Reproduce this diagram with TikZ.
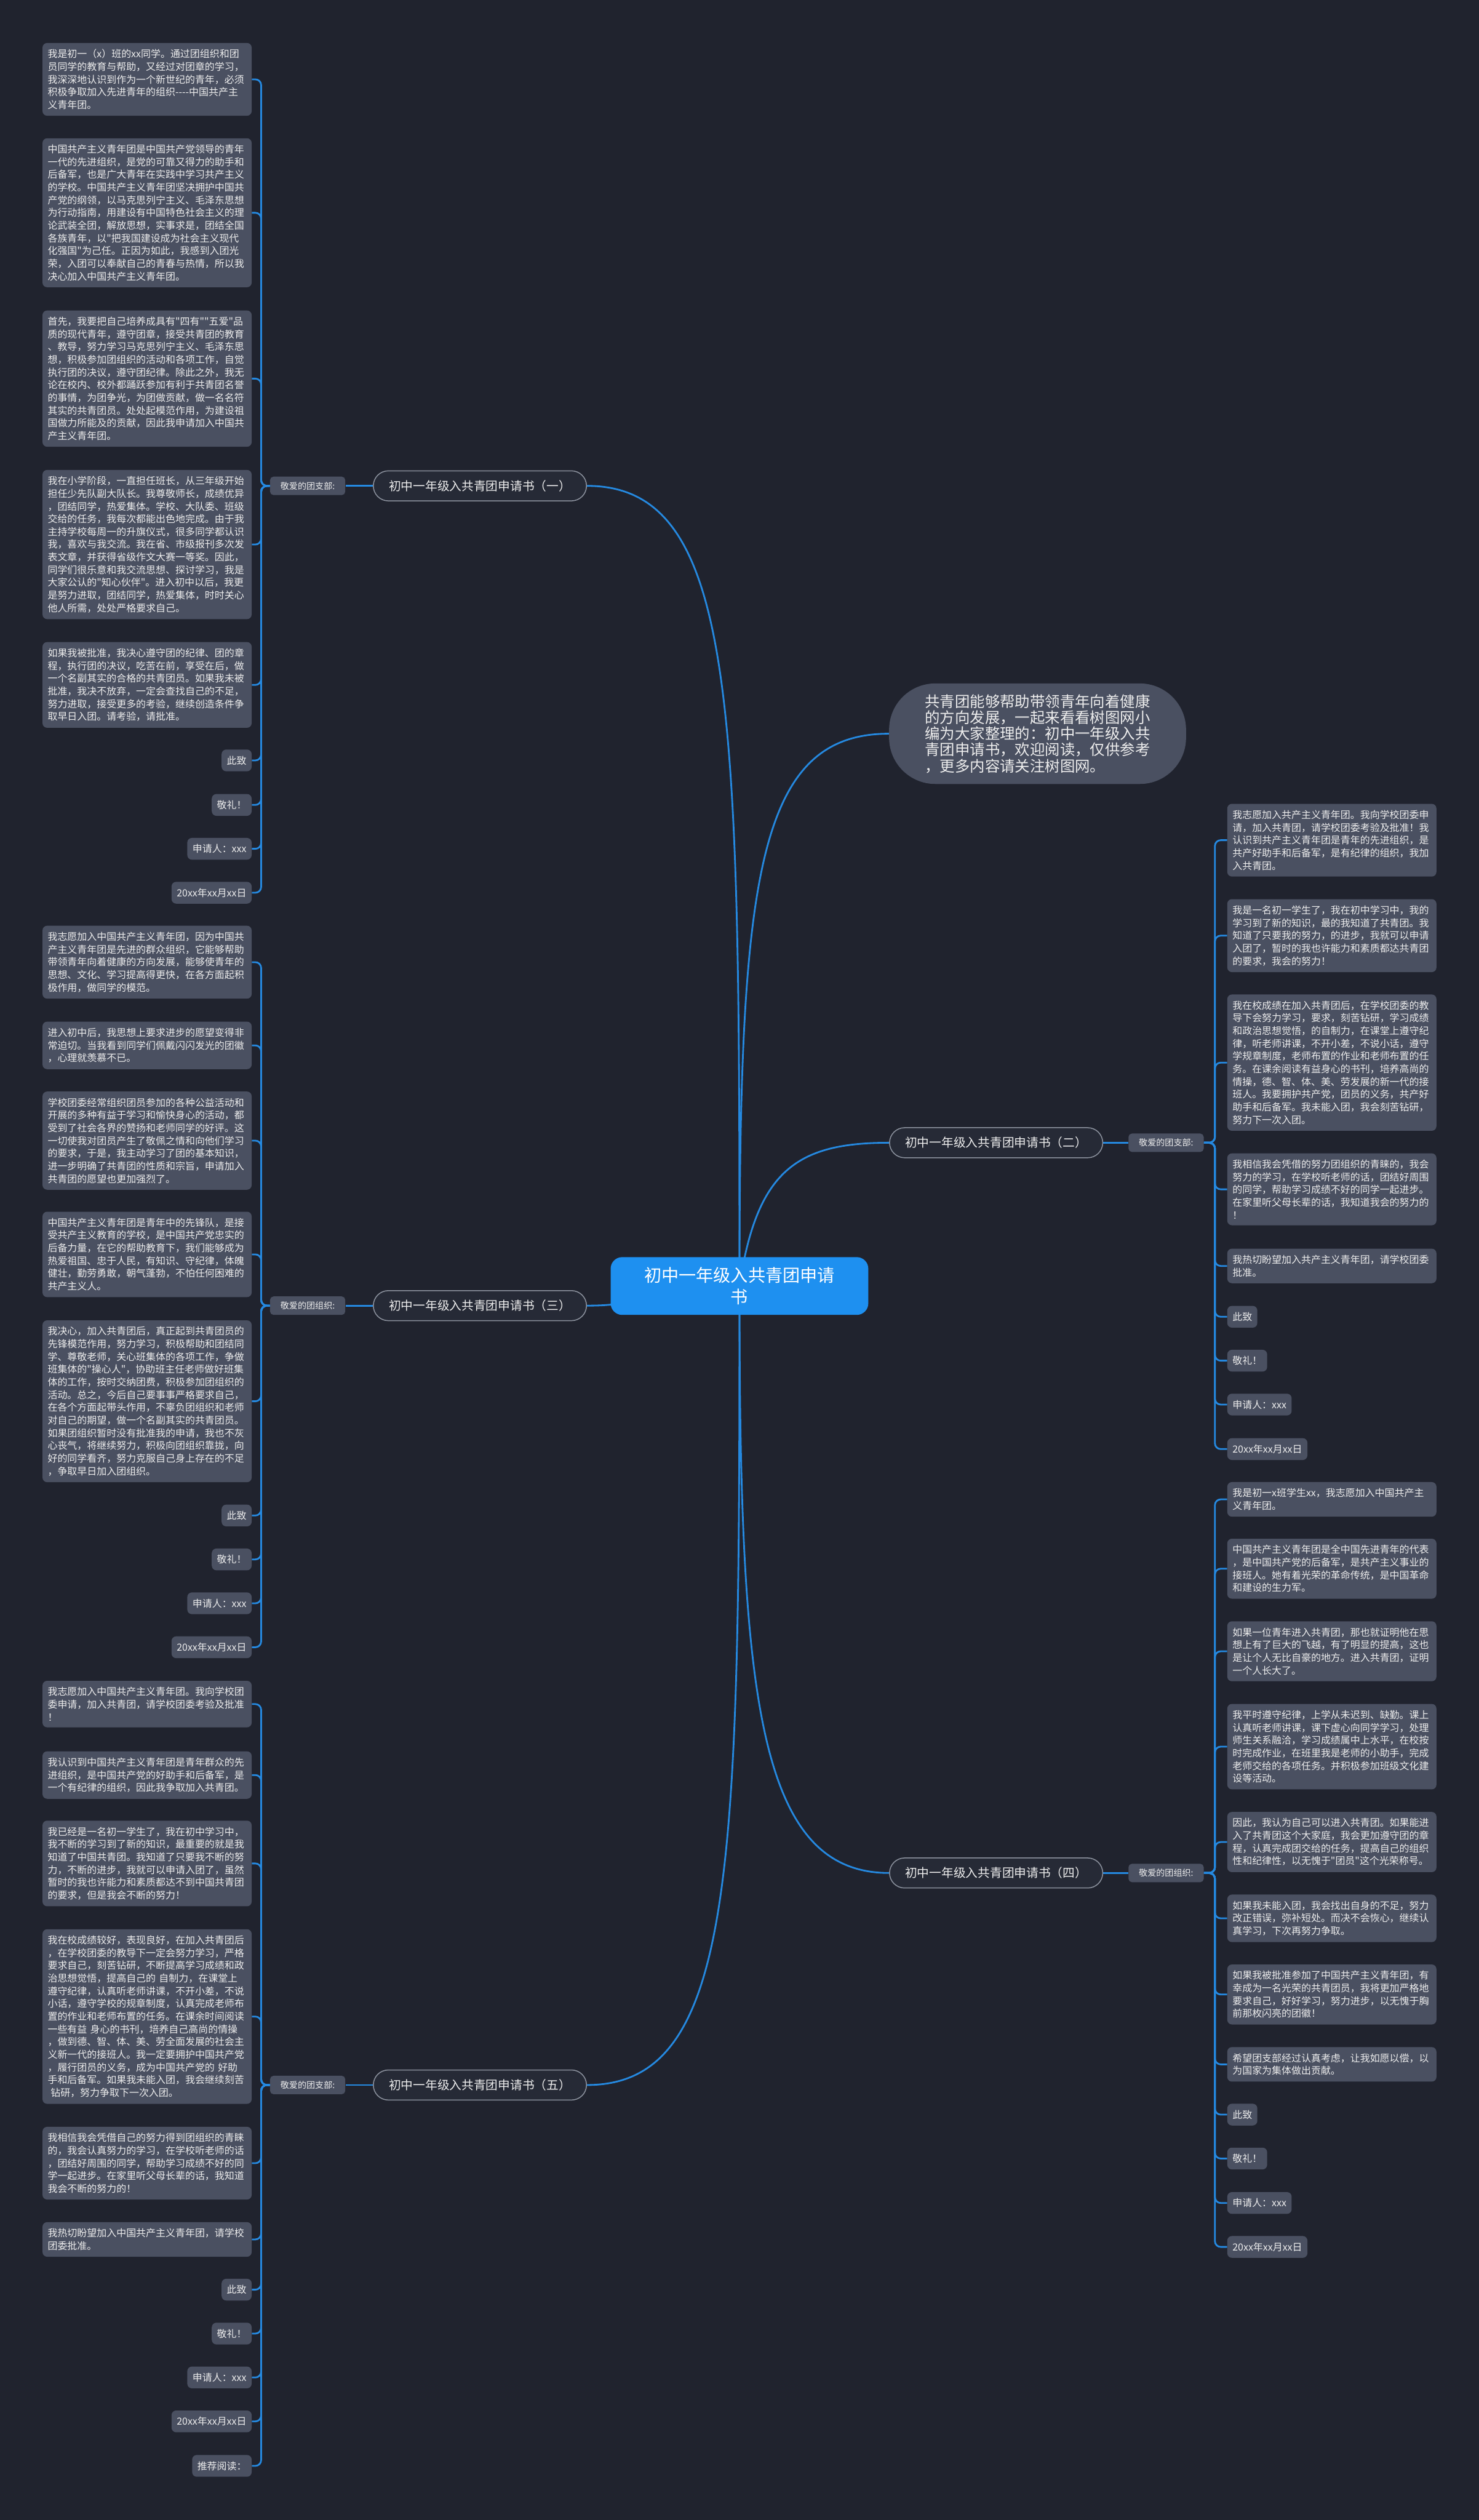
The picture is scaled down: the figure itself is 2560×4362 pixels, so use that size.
\documentclass[tikz,border=0pt]{standalone}
\usepackage{fontspec}
\setmainfont{Noto Sans CJK SC}[Ligatures=TeXOff]
\usetikzlibrary{calc}
\definecolor{bgc}{HTML}{20232E}
\definecolor{leafc}{HTML}{4A5061}
\definecolor{txt}{HTML}{EDEDED}
\definecolor{linec}{HTML}{2589E0}
\definecolor{cenc}{HTML}{1E90F0}
\definecolor{brc}{HTML}{262A36}
\definecolor{brd}{HTML}{8C929E}
\pgfdeclarelayer{bgl}\pgfdeclarelayer{lnl}\pgfsetlayers{bgl,lnl,main}
\tikzset{
 leaf/.style={fill=leafc, rounded corners=4pt, text=txt, font=\fontsize{8.5}{11}\selectfont, inner xsep=4.5pt, inner ysep=5.5pt, align=left, text width=172pt},
 leafs/.style={fill=leafc, rounded corners=4pt, text=txt, font=\fontsize{8.5}{11}\selectfont, inner xsep=4.5pt, inner ysep=5.5pt},
 lab/.style={fill=leafc, rounded corners=3pt, text=txt, font=\fontsize{7.5}{9}\selectfont, inner xsep=9pt, inner ysep=4.5pt},
 branch/.style={fill=brc, draw=brd, line width=0.8pt, rounded corners=13pt, text=txt, font=\fontsize{10.5}{12}\selectfont, inner xsep=13.5pt, inner ysep=8pt},
 central/.style={fill=cenc, rounded corners=10pt, text=white, font=\fontsize{15}{19}\selectfont, align=center, minimum width=223pt, minimum height=50pt},
 intro/.style={fill=leafc, rounded corners=40pt, text=txt, font=\fontsize{13}{14}\selectfont, align=left, minimum width=257pt, minimum height=87pt},
 conn/.style={draw=linec, line width=1.5pt, rounded corners=5pt},
 mainc/.style={draw=linec, line width=1.5pt}
}
\begin{document}
\begin{tikzpicture}[x=0.5pt,y=-0.5pt]
\begin{pgfonlayer}{bgl}
\fill[bgc] (0,0) rectangle (2560,4362);
\end{pgfonlayer}
\useasboundingbox (0,0) rectangle (2560,4362);

% central and intro
\node[central] (c) at (1280,2226) {初中一年级入共青团申请\\书};
\node[intro] (intro) at (1796,1270) {共青团能够帮助带领青年向着健康\\的方向发展，一起来看看树图网小\\编为大家整理的：初中一年级入共\\青团申请书，欢迎阅读，仅供参考\\，更多内容请关注树图网。};

% branches
\node[branch, anchor=east] (br1) at (1016,841) {初中一年级入共青团申请书（一）};
\node[branch, anchor=east] (br3) at (1016,2260) {初中一年级入共青团申请书（三）};
\node[branch, anchor=east] (br5) at (1016,3609) {初中一年级入共青团申请书（五）};
\node[branch, anchor=west] (br2) at (1539,1978) {初中一年级入共青团申请书（二）};
\node[branch, anchor=west] (br4) at (1539,3242) {初中一年级入共青团申请书（四）};

\node[lab, anchor=east] (lb1) at (598,841) {敬爱的团支部:};
\node[lab, anchor=east] (lb3) at (598,2260) {敬爱的团组织:};
\node[lab, anchor=east] (lb5) at (598,3609) {敬爱的团支部:};
\node[lab, anchor=west] (lb2) at (1953,1978) {敬爱的团支部:};
\node[lab, anchor=west] (lb4) at (1953,3242) {敬爱的团组织:};

% group 1
\node[leaf, anchor=north east] (g1-1) at (436,74) {我是初一（x）班的xx同学。通过团组织和团\\员同学的教育与帮助，又经过对团章的学习，\\我深深地认识到作为一个新世纪的青年，必须\\积极争取加入先进青年的组织-{}-{}-{}-中国共产主\\义青年团。};
\node[leaf, anchor=north east] (g1-2) at (436,239) {中国共产主义青年团是中国共产党领导的青年\\一代的先进组织，是党的可靠又得力的助手和\\后备军，也是广大青年在实践中学习共产主义\\的学校。中国共产主义青年团坚决拥护中国共\\产党的纲领，以马克思列宁主义、毛泽东思想\\为行动指南，用建设有中国特色社会主义的理\\论武装全团，解放思想，实事求是，团结全国\\各族青年，以"把我国建设成为社会主义现代\\化强国"为己任。正因为如此，我感到入团光\\荣，入团可以奉献自己的青春与热情，所以我\\决心加入中国共产主义青年团。};
\node[leaf, anchor=north east] (g1-3) at (436,537) {首先，我要把自己培养成具有"四有""五爱"品\\质的现代青年，遵守团章，接受共青团的教育\\、教导，努力学习马克思列宁主义、毛泽东思\\想，积极参加团组织的活动和各项工作，自觉\\执行团的决议，遵守团纪律。除此之外，我无\\论在校内、校外都踊跃参加有利于共青团名誉\\的事情，为团争光，为团做贡献，做一名名符\\其实的共青团员。处处起模范作用，为建设祖\\国做力所能及的贡献，因此我申请加入中国共\\产主义青年团。};
\node[leaf, anchor=north east] (g1-4) at (436,813) {我在小学阶段，一直担任班长，从三年级开始\\担任少先队副大队长。我尊敬师长，成绩优异\\，团结同学，热爱集体。学校、大队委、班级\\交给的任务，我每次都能出色地完成。由于我\\主持学校每周一的升旗仪式，很多同学都认识\\我，喜欢与我交流。我在省、市级报刊多次发\\表文章，并获得省级作文大赛一等奖。因此，\\同学们很乐意和我交流思想、探讨学习，我是\\大家公认的"知心伙伴"。进入初中以后，我更\\是努力进取，团结同学，热爱集体，时时关心\\他人所需，处处严格要求自己。};
\node[leaf, anchor=north east] (g1-5) at (436,1111) {如果我被批准，我决心遵守团的纪律、团的章\\程，执行团的决议，吃苦在前，享受在后，做\\一个名副其实的合格的共青团员。如果我未被\\批准，我决不放弃，一定会查找自己的不足，\\努力进取，接受更多的考验，继续创造条件争\\取早日入团。请考验，请批准。};
\node[leafs, anchor=north east] (g1-6) at (436,1297) {此致};
\node[leafs, anchor=north east] (g1-7) at (436,1374) {敬礼！};
\node[leafs, anchor=north east] (g1-8) at (436,1450) {申请人：xxx};
\node[leafs, anchor=north east] (g1-9) at (436,1526) {20xx年xx月xx日};

% group 3
\node[leaf, anchor=north east] (g3-1) at (436,1602) {我志愿加入中国共产主义青年团，因为中国共\\产主义青年团是先进的群众组织，它能够帮助\\带领青年向着健康的方向发展，能够使青年的\\思想、文化、学习提高得更快，在各方面起积\\极作用，做同学的模范。};
\node[leaf, anchor=north east] (g3-2) at (436,1768) {进入初中后，我思想上要求进步的愿望变得非\\常迫切。当我看到同学们佩戴闪闪发光的团徽\\，心理就羡慕不已。};
\node[leaf, anchor=north east] (g3-3) at (436,1889) {学校团委经常组织团员参加的各种公益活动和\\开展的多种有益于学习和愉快身心的活动，都\\受到了社会各界的赞扬和老师同学的好评。这\\一切使我对团员产生了敬佩之情和向他们学习\\的要求，于是，我主动学习了团的基本知识，\\进一步明确了共青团的性质和宗旨，申请加入\\共青团的愿望也更加强烈了。};
\node[leaf, anchor=north east] (g3-4) at (436,2097) {中国共产主义青年团是青年中的先锋队，是接\\受共产主义教育的学校，是中国共产党忠实的\\后备力量，在它的帮助教育下，我们能够成为\\热爱祖国、忠于人民，有知识、守纪律，体魄\\健壮，勤劳勇敢，朝气蓬勃，不怕任何困难的\\共产主义人。};
\node[leaf, anchor=north east] (g3-5) at (436,2285) {我决心，加入共青团后，真正起到共青团员的\\先锋模范作用，努力学习，积极帮助和团结同\\学、尊敬老师，关心班集体的各项工作，争做\\班集体的"操心人"，协助班主任老师做好班集\\体的工作，按时交纳团费，积极参加团组织的\\活动。总之，今后自己要事事严格要求自己，\\在各个方面起带头作用，不辜负团组织和老师\\对自己的期望，做一个名副其实的共青团员。\\如果团组织暂时没有批准我的申请，我也不灰\\心丧气，将继续努力，积极向团组织靠拢，向\\好的同学看齐，努力克服自己身上存在的不足\\，争取早日加入团组织。};
\node[leafs, anchor=north east] (g3-6) at (436,2604) {此致};
\node[leafs, anchor=north east] (g3-7) at (436,2680) {敬礼！};
\node[leafs, anchor=north east] (g3-8) at (436,2756) {申请人：xxx};
\node[leafs, anchor=north east] (g3-9) at (436,2832) {20xx年xx月xx日};

% group 5
\node[leaf, anchor=north east] (g5-1) at (436,2909) {我志愿加入中国共产主义青年团。我向学校团\\委申请，加入共青团，请学校团委考验及批准\\！};
\node[leaf, anchor=north east] (g5-2) at (436,3031) {我认识到中国共产主义青年团是青年群众的先\\进组织，是中国共产党的好助手和后备军，是\\一个有纪律的组织，因此我争取加入共青团。};
\node[leaf, anchor=north east] (g5-3) at (436,3151) {我已经是一名初一学生了，我在初中学习中，\\我不断的学习到了新的知识，最重要的就是我\\知道了中国共青团。我知道了只要我不断的努\\力，不断的进步，我就可以申请入团了，虽然\\暂时的我也许能力和素质都达不到中国共青团\\的要求，但是我会不断的努力！};
\node[leaf, anchor=north east] (g5-4) at (436,3339) {我在校成绩较好，表现良好，在加入共青团后\\，在学校团委的教导下一定会努力学习，严格\\要求自己，刻苦钻研，不断提高学习成绩和政\\治思想觉悟，提高自己的 自制力，在课堂上\\遵守纪律，认真听老师讲课，不开小差，不说\\小话，遵守学校的规章制度，认真完成老师布\\置的作业和老师布置的任务。在课余时间阅读\\一些有益 身心的书刊，培养自己高尚的情操\\，做到德、智、体、美、劳全面发展的社会主\\义新一代的接班人。我一定要拥护中国共产党\\，履行团员的义务，成为中国共产党的 好助\\手和后备军。如果我未能入团，我会继续刻苦\\\hspace*{0.3em}钻研，努力争取下一次入团。};
\node[leaf, anchor=north east] (g5-5) at (436,3681) {我相信我会凭借自己的努力得到团组织的青睐\\的，我会认真努力的学习，在学校听老师的话\\，团结好周围的同学，帮助学习成绩不好的同\\学一起进步。在家里听父母长辈的话，我知道\\我会不断的努力的！};
\node[leaf, anchor=north east] (g5-6) at (436,3846) {我热切盼望加入中国共产主义青年团，请学校\\团委批准。};
\node[leafs, anchor=north east] (g5-7) at (436,3944) {此致};
\node[leafs, anchor=north east] (g5-8) at (436,4020) {敬礼！};
\node[leafs, anchor=north east] (g5-9) at (436,4096) {申请人：xxx};
\node[leafs, anchor=north east] (g5-10) at (436,4172) {20xx年xx月xx日};
\node[leafs, anchor=north east] (g5-11) at (436,4249) {推荐阅读：};

% group 2
\node[leaf, anchor=north west] (g2-1) at (2124,1391) {我志愿加入共产主义青年团。我向学校团委申\\请，加入共青团，请学校团委考验及批准！我\\认识到共产主义青年团是青年的先进组织，是\\共产好助手和后备军，是有纪律的组织，我加\\入共青团。};
\node[leaf, anchor=north west] (g2-2) at (2124,1556) {我是一名初一学生了，我在初中学习中，我的\\学习到了新的知识，最的我知道了共青团。我\\知道了只要我的努力，的进步，我就可以申请\\入团了，暂时的我也许能力和素质都达共青团\\的要求，我会的努力！};
\node[leaf, anchor=north west] (g2-3) at (2124,1721) {我在校成绩在加入共青团后，在学校团委的教\\导下会努力学习，要求，刻苦钻研，学习成绩\\和政治思想觉悟，的自制力，在课堂上遵守纪\\律，听老师讲课，不开小差，不说小话，遵守\\学规章制度，老师布置的作业和老师布置的任\\务。在课余阅读有益身心的书刊，培养高尚的\\情操，德、智、体、美、劳发展的新一代的接\\班人。我要拥护共产党，团员的义务，共产好\\助手和后备军。我未能入团，我会刻苦钻研，\\努力下一次入团。};
\node[leaf, anchor=north west] (g2-4) at (2124,1996) {我相信我会凭借的努力团组织的青睐的，我会\\努力的学习，在学校听老师的话，团结好周围\\的同学，帮助学习成绩不好的同学一起进步。\\在家里听父母长辈的话，我知道我会的努力的\\！};
\node[leaf, anchor=north west] (g2-5) at (2124,2161) {我热切盼望加入共产主义青年团，请学校团委\\批准。};
\node[leafs, anchor=north west] (g2-6) at (2124,2260) {此致};
\node[leafs, anchor=north west] (g2-7) at (2124,2336) {敬礼！};
\node[leafs, anchor=north west] (g2-8) at (2124,2412) {申请人：xxx};
\node[leafs, anchor=north west] (g2-9) at (2124,2489) {20xx年xx月xx日};

% group 4
\node[leaf, anchor=north west] (g4-1) at (2124,2565) {我是初一x班学生xx，我志愿加入中国共产主\\义青年团。};
\node[leaf, anchor=north west] (g4-2) at (2124,2663) {中国共产主义青年团是全中国先进青年的代表\\，是中国共产党的后备军，是共产主义事业的\\接班人。她有着光荣的革命传统，是中国革命\\和建设的生力军。};
\node[leaf, anchor=north west] (g4-3) at (2124,2806) {如果一位青年进入共青团，那也就证明他在思\\想上有了巨大的飞越，有了明显的提高，这也\\是让个人无比自豪的地方。进入共青团，证明\\一个人长大了。};
\node[leaf, anchor=north west] (g4-4) at (2124,2949) {我平时遵守纪律，上学从未迟到、缺勤。课上\\认真听老师讲课，课下虚心向同学学习，处理\\师生关系融洽，学习成绩属中上水平，在校按\\时完成作业，在班里我是老师的小助手，完成\\老师交给的各项任务。并积极参加班级文化建\\设等活动。};
\node[leaf, anchor=north west] (g4-5) at (2124,3136) {因此，我认为自己可以进入共青团。如果能进\\入了共青团这个大家庭，我会更加遵守团的章\\程，认真完成团交给的任务，提高自己的组织\\性和纪律性，以无愧于"团员"这个光荣称号。};
\node[leaf, anchor=north west] (g4-6) at (2124,3279) {如果我未能入团，我会找出自身的不足，努力\\改正错误，弥补短处。而决不会恢心，继续认\\真学习，下次再努力争取。};
\node[leaf, anchor=north west] (g4-7) at (2124,3400) {如果我被批准参加了中国共产主义青年团，有\\幸成为一名光荣的共青团员，我将更加严格地\\要求自己，好好学习，努力进步，以无愧于胸\\前那枚闪亮的团徽！};
\node[leaf, anchor=north west] (g4-8) at (2124,3543) {希望团支部经过认真考虑，让我如愿以偿，以\\为国家为集体做出贡献。};
\node[leafs, anchor=north west] (g4-9) at (2124,3641) {此致};
\node[leafs, anchor=north west] (g4-10) at (2124,3717) {敬礼！};
\node[leafs, anchor=north west] (g4-11) at (2124,3794) {申请人：xxx};
\node[leafs, anchor=north west] (g4-12) at (2124,3870) {20xx年xx月xx日};

% connectors
\begin{pgfonlayer}{lnl}
\draw[mainc] (c.center) .. controls +(0,-1000) and +(260,0) .. (br1.east);
\draw[mainc] (c.center) .. controls +(-180,0) and +(120,0) .. (br3.east);
\draw[mainc] (c.center) .. controls +(0,1000) and +(260,0) .. (br5.east);
\draw[mainc] (c.center) .. controls +(0,-700) and +(-230,0) .. (intro.west);
\draw[mainc] (c.center) .. controls +(30,-200) and +(-160,0) .. (br2.west);
\draw[mainc] (c.center) .. controls +(0,700) and +(-230,0) .. (br4.west);
\draw[conn] (br1.west) -- (lb1.east);
\draw[conn] (br3.west) -- (lb3.east);
\draw[conn] (br5.west) -- (lb5.east);
\draw[conn] (br2.east) -- (lb2.west);
\draw[conn] (br4.east) -- (lb4.west);
\foreach \i in {1,...,9} \draw[conn] (lb1.west) -- ++(-15,0) |- (g1-\i.east);
\foreach \i in {1,...,9} \draw[conn] (lb3.west) -- ++(-15,0) |- (g3-\i.east);
\foreach \i in {1,...,11} \draw[conn] (lb5.west) -- ++(-15,0) |- (g5-\i.east);
\foreach \i in {1,...,9} \draw[conn] (lb2.east) -- ++(19,0) |- (g2-\i.west);
\foreach \i in {1,...,12} \draw[conn] (lb4.east) -- ++(19,0) |- (g4-\i.west);
\end{pgfonlayer}
\end{tikzpicture}
\end{document}
